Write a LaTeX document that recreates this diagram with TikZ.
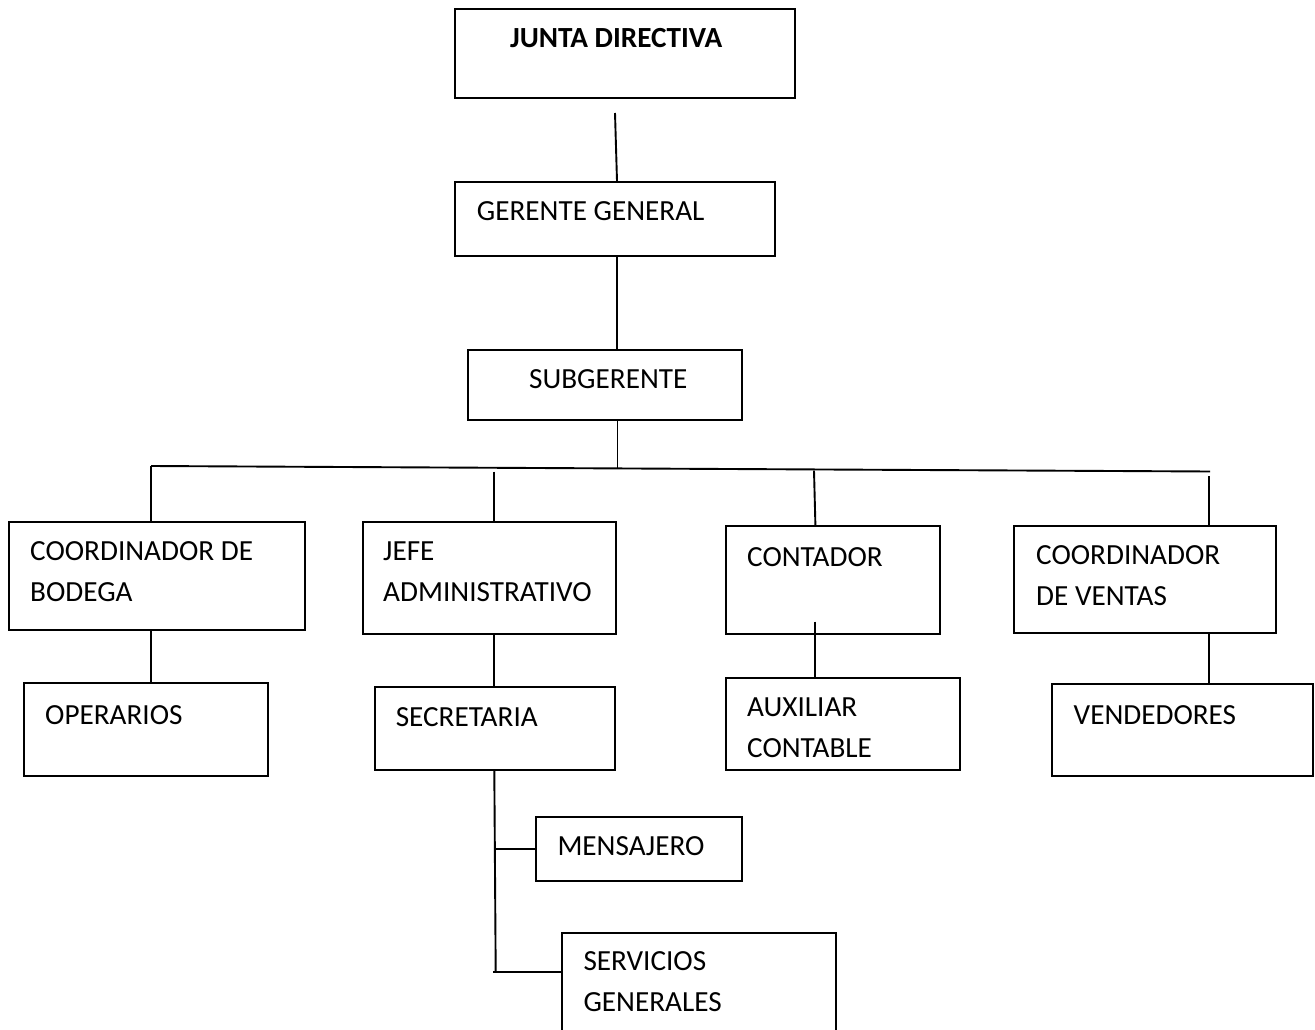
\documentclass[tikz,border=0pt]{standalone}
\usepackage{fontspec}
\setmainfont{Carlito}
\usetikzlibrary{calc}

% box from its corners: name, left, top, right, bottom
\newcommand\orgbox[5]{%
  \node[orgbox, minimum width={#4-#2}, minimum height={#5-#3}]
    (#1) at ({(#2+#4)/2},{(#3+#5)/2}) {};}

% labels are placed by the baseline of their last line
\tikzset{
  orgbox/.style={draw, line width=2pt, inner sep=0pt, fill=white},
  txt/.style={inner sep=0pt, anchor=base west, align=left,
              font=\fontsize{29.2}{41}\selectfont},
  link/.style={line width=1.9pt},
}

\begin{document}
\begin{tikzpicture}[x=1pt, y=-1pt]
\clip (0,0) rectangle (1315,1030);
\fill[white] (0,0) rectangle (1315,1030);

% boxes
\orgbox{jd}{455}{9}{795}{98}
\orgbox{gg}{455}{182}{775}{256}
\orgbox{sg}{468}{350}{742}{420}
\orgbox{cb}{9}{522}{305}{630}
\orgbox{ja}{363}{522}{616}{634}
\orgbox{ct}{726}{526}{940}{634}
\orgbox{cv}{1014}{526}{1276}{633}
\orgbox{op}{24}{683}{268}{776}
\orgbox{se}{375}{687}{615}{770}
\orgbox{ax}{726}{678}{960}{770}
\orgbox{vd}{1052}{684}{1313}{776}
\orgbox{me}{536}{817}{742}{881}
\orgbox{sv}{562}{933}{836}{1060}

% labels
\node[txt] (jdT) at (510,47.3) {\bfseries JUNTA DIRECTIVA};
\node[txt] (ggT) at (476.7,220.7) {GERENTE GENERAL};
\node[txt] (sgT) at (529,388.3) {SUBGERENTE};
\node[txt] (cbT) at (30,601) {COORDINADOR DE\\BODEGA};
\node[txt] (jaT) at (383,601) {JEFE\\ADMINISTRATIVO};
\node[txt] (ctT) at (747,566.7) {CONTADOR};
\node[txt] (cvT) at (1036,605) {COORDINADOR\\DE VENTAS};
\node[txt] (opT) at (45,724) {OPERARIOS};
\node[txt] (seT) at (395.6,726) {SECRETARIA};
\node[txt] (axT) at (747,757) {AUXILIAR\\CONTABLE};
\node[txt] (vdT) at (1073.5,724) {VENDEDORES};
\node[txt] (meT) at (557.3,855.3) {MENSAJERO};
\node[txt] (svT) at (583.3,1011.7) {SERVICIOS\\GENERALES};

% connector end points
\coordinate (jdLow) at (615,113);
\coordinate (ggDrop) at (617,256);
\coordinate (sgDrop) at (617.5,420);
\coordinate (busL) at (151,466);
\coordinate (busM) at (617.5,468.3);
\coordinate (busR) at (1210,471.5);
\coordinate (jaTop) at (494,471.7);
\coordinate (ctTop) at (814,470.7);
\coordinate (ctIn) at (815.4,621.7);
\coordinate (cvTop) at (1209,476);
\coordinate (trunkTop) at (494.3,770);
\coordinate (trunkBot) at (495.7,971.7);
\coordinate (meJoin) at (495,848.7);
\coordinate (svJoin) at (493.3,971.7);

% upper chain
\draw[link] (jdLow) -- ($(gg.north)+(2,0)$);
\draw[link] (ggDrop |- gg.south) -- (ggDrop |- sg.north);
\draw[link] (sgDrop |- sg.south) -- (busM);

% horizontal bus and drops
\draw[link] (busL) -- (busR);
\draw[link] (busL) -- (busL |- cb.north);
\draw[link] (jaTop) -- (jaTop |- ja.north);
\draw[link] (ctTop) -- (ctIn |- ct.north);
\draw[link] (cvTop) -- (cvTop |- cv.north);

% second level
\draw[link] (busL |- cb.south) -- (busL |- op.north);
\draw[link] (jaTop |- ja.south) -- (jaTop |- se.north);
\draw[link] (ctIn) -- (ctIn |- ax.north);
\draw[link] (cvTop |- cv.south) -- (cvTop |- vd.north);

% secretaria branches
\draw[link] (trunkTop) -- (trunkBot);
\draw[link] (meJoin) -- (meJoin -| me.west);
\draw[link] (svJoin) -- (svJoin -| sv.west);
\end{tikzpicture}
\end{document}
